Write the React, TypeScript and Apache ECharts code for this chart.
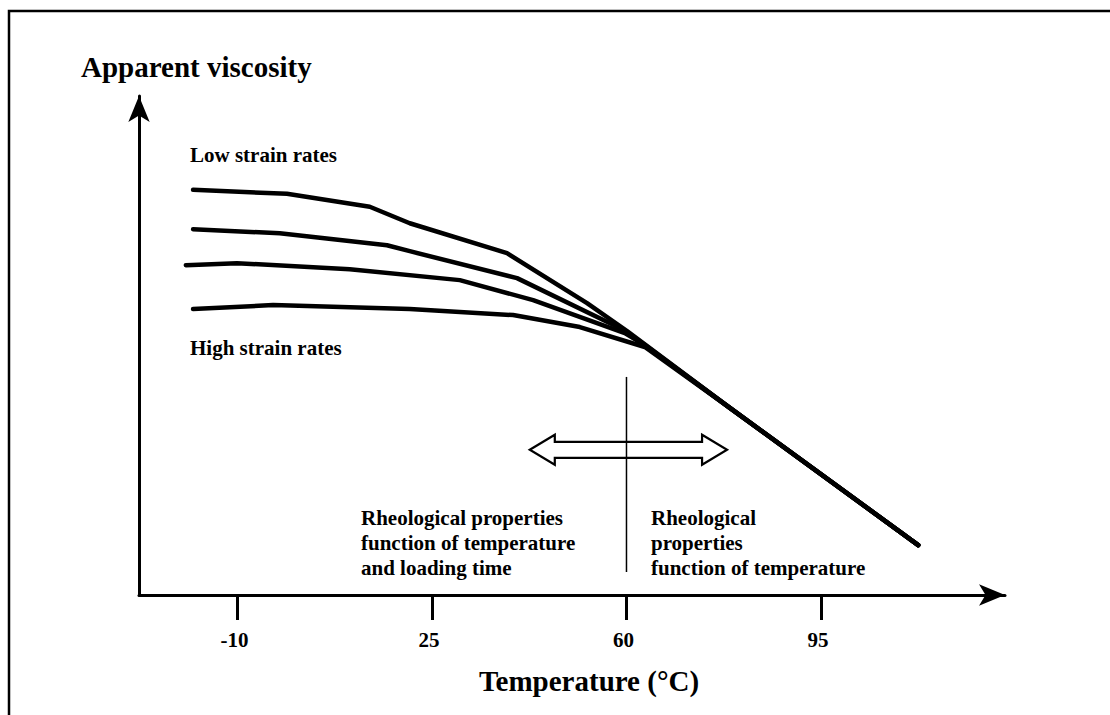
import React, { useEffect, useRef } from 'react';
import * as echarts from 'echarts';

// Temperature ticks (°C)
const tickTemps = [-10, 25, 60, 95];

// Curves: temperature (°C) and apparent viscosity (relative units)
const lowRateT = [-18.0, -1.1, 13.8, 21.0, 38.5, 52.9, 60.1, 78.6, 112.5];
const lowRateV = [81.2, 80.4, 77.8, 74.5, 68.5, 58.5, 52.9, 37.5, 10.0];
const midRate1T = [-18.0, -2.4, 16.9, 21.0, 40.3, 58.8, 62.4, 78.6, 112.5];
const midRate1V = [73.3, 72.5, 70.1, 68.9, 63.5, 53.5, 50.7, 37.5, 10.0];
const midRate2T = [-19.3, -10.1, 10.2, 30.0, 43.2, 59.7, 63.3, 78.6, 112.5];
const midRate2V = [66.1, 66.5, 65.3, 63.1, 59.1, 52.5, 50.1, 37.5, 10.0];
const highRateT = [-18.0, -3.6, 21.0, 39.6, 51.6, 63.3, 78.6, 112.5];
const highRateV = [57.3, 58.1, 57.3, 56.1, 53.7, 49.7, 37.5, 10.0];

// Boundary line at 60 °C
const boundaryT = [60, 60];
const boundaryV = [43.7, 4.6];

// Double arrow: from/to temperature, at viscosity level
const arrowFromT = 42.6;
const arrowToT = 78.1;
const arrowV = 29.1;

const zip = (xs: number[], ys: number[]) => xs.map((x, i) => [x, ys[i]]);

const FONT = '"Liberation Serif", "Times New Roman", serif';

export default function App() {
  const ref = useRef<HTMLDivElement>(null);
  useEffect(() => {
    document.body.style.margin = '0';
    const chart = echarts.init(ref.current!, null, { renderer: 'svg' });
    const curveStyle = { color: '#000', width: 4.5, cap: 'round', join: 'round' };
    const lineSeries = (name: string, xs: number[], ys: number[]) => ({
      name,
      type: 'line',
      data: zip(xs, ys),
      showSymbol: false,
      symbol: 'none',
      lineStyle: curveStyle,
      itemStyle: { color: '#000' },
      z: 3,
    });
    const smallText = (text: string, x: number, y: number) => ({
      type: 'text',
      x,
      y,
      style: {
        text,
        fill: '#000',
        fontFamily: FONT,
        fontWeight: 'bold',
        fontSize: 21,
        align: 'left',
        verticalAlign: 'middle',
      },
    });
    chart.setOption({
      animation: false,
      backgroundColor: '#fff',
      grid: { left: 139, right: 105, top: 96, bottom: 120, containLabel: false },
      xAxis: {
        type: 'value',
        min: -27.73,
        max: 128.12,
        splitLine: { show: false },
        axisLine: {
          show: true,
          onZero: false,
          symbol: ['none', 'arrow'],
          symbolSize: [16, 26],
          lineStyle: { color: '#000', width: 3 },
        },
        axisTick: {
          show: true,
          customValues: tickTemps,
          length: 25,
          lineStyle: { color: '#000', width: 3 },
        },
        axisLabel: {
          show: true,
          customValues: tickTemps,
          margin: 34,
          color: '#000',
          fontFamily: FONT,
          fontWeight: 'bold',
          fontSize: 21,
          padding: [0, 6, 0, 0],
        },
      },
      yAxis: {
        type: 'value',
        min: 0,
        max: 100,
        splitLine: { show: false },
        axisLine: {
          show: true,
          onZero: false,
          symbol: ['none', 'arrow'],
          symbolSize: [16, 26],
          lineStyle: { color: '#000', width: 3 },
        },
        axisTick: { show: false },
        axisLabel: { show: false },
      },
      series: [
        lineSeries('Low strain rates', lowRateT, lowRateV),
        lineSeries('Intermediate 1', midRate1T, midRate1V),
        lineSeries('Intermediate 2', midRate2T, midRate2V),
        lineSeries('High strain rates', highRateT, highRateV),
        {
          type: 'custom',
          name: 'arrow',
          clip: false,
          z: 2,
          data: [[arrowFromT, arrowToT, arrowV]],
          encode: { x: [0, 1], y: 2 },
          renderItem: (_params: any, api: any) => {
            const a = api.coord([api.value(0), api.value(2)]);
            const b = api.coord([api.value(1), api.value(2)]);
            const hl = 25, hh = 15, sh = 8;
            const y = a[1];
            const pts = [
              [a[0], y], [a[0] + hl, y - hh], [a[0] + hl, y - sh], [b[0] - hl, y - sh],
              [b[0] - hl, y - hh], [b[0], y], [b[0] - hl, y + hh], [b[0] - hl, y + sh],
              [a[0] + hl, y + sh], [a[0] + hl, y + hh],
            ];
            return {
              type: 'polygon',
              shape: { points: pts },
              style: { fill: '#fff', stroke: '#000', lineWidth: 2.2 },
            };
          },
        },
        {
          type: 'line',
          name: 'boundary',
          data: zip(boundaryT, boundaryV),
          symbol: 'none',
          lineStyle: { color: '#000', width: 1.5 },
          z: 4,
        },
      ],
      graphic: [
        {
          type: 'polyline',
          shape: { points: [[9, 715], [9, 11], [1110, 11]] },
          style: { stroke: '#000', lineWidth: 2.5, fill: 'none' },
        },
        {
          type: 'text',
          x: 81,
          y: 67,
          style: {
            text: 'Apparent viscosity',
            fill: '#000',
            fontFamily: FONT,
            fontWeight: 'bold',
            fontSize: 29,
            align: 'left',
            verticalAlign: 'middle',
          },
        },
        {
          type: 'text',
          x: 589,
          y: 681,
          style: {
            text: 'Temperature (°C)',
            fill: '#000',
            fontFamily: FONT,
            fontWeight: 'bold',
            fontSize: 29,
            align: 'center',
            verticalAlign: 'middle',
          },
        },
        smallText('Low strain rates', 190, 155),
        smallText('High strain rates', 190, 348),
        smallText('Rheological properties', 361, 518),
        smallText('function of temperature', 361, 543),
        smallText('and loading time', 361, 568),
        smallText('Rheological', 651, 518),
        smallText('properties', 651, 543),
        smallText('function of temperature', 651, 568),
      ],
    });
    return () => chart.dispose();
  }, []);
  return <div ref={ref} style={{ width: 1110, height: 715 }} />;
}
